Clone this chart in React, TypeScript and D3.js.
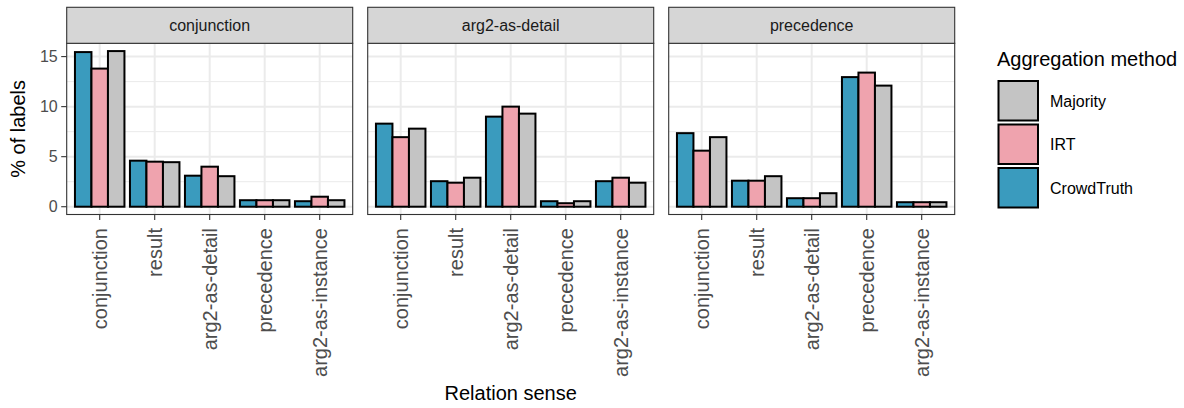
import React, { useEffect, useRef } from 'react';
import * as d3 from 'd3';

// facets, categories and methods
const facets = ['conjunction', 'arg2-as-detail', 'precedence'];
const senses = ['conjunction', 'result', 'arg2-as-detail', 'precedence', 'arg2-as-instance'];
const methods = ['CrowdTruth', 'IRT', 'Majority'];
const yTicks = [0, 5, 10, 15];
const yMinor = [2.5, 7.5, 12.5];

// % of labels, per facet, one value per sense
const crowdTruth = [
    [15.45, 4.6, 3.1, 0.65, 0.55],
    [8.3, 2.55, 9.0, 0.55, 2.55],
    [7.35, 2.6, 0.85, 12.95, 0.45],
];
const irt = [
    [13.8, 4.5, 4.0, 0.65, 1.0],
    [6.95, 2.4, 10.0, 0.35, 2.9],
    [5.6, 2.6, 0.85, 13.4, 0.45],
];
const majority = [
    [15.55, 4.45, 3.05, 0.65, 0.65],
    [7.8, 2.9, 9.3, 0.55, 2.4],
    [6.95, 3.05, 1.35, 12.1, 0.45],
];

const colors: Record<string, string> = {
    CrowdTruth: '#3a9bbe',
    IRT: '#efa3ae',
    Majority: '#c4c4c4',
};

const FONT = '"Liberation Sans", Arial, Helvetica, sans-serif';

export default function App() {
    const ref = useRef<SVGSVGElement | null>(null);

    useEffect(() => {
        const svg = d3.select(ref.current);
        svg.selectAll('*').remove();

        const width = 1184;
        const height = 408;
        const panelW = 286;
        const gap = 15;
        const left0 = 66.7;
        const stripTop = 7.3;
        const panelTop = 43.3;
        const panelBottom = 214.5;

        const series: Record<string, number[][]> = {
            CrowdTruth: crowdTruth,
            IRT: irt,
            Majority: majority,
        };

        const maxVal = d3.max([...crowdTruth, ...irt, ...majority].flat()) as number;
        const yScale = d3.scaleLinear()
            .domain([-0.05 * maxVal, 1.05 * maxVal])
            .range([panelBottom, panelTop]);

        svg.attr('width', width).attr('height', height);
        svg.append('rect').attr('width', width).attr('height', height).attr('fill', '#ffffff');

        facets.forEach((facet, fi) => {
            const x0 = left0 + fi * (panelW + gap);
            const g = svg.append('g');

            const xScale = d3.scaleBand<string>()
                .domain(senses)
                .range([x0, x0 + panelW])
                .paddingInner(0)
                .paddingOuter(0.1);
            const step = xScale.step();

            // panel background
            g.append('rect')
                .attr('x', x0).attr('y', panelTop)
                .attr('width', panelW).attr('height', panelBottom - panelTop)
                .attr('fill', '#ffffff');

            // grid
            g.selectAll('.minor')
                .data(yMinor)
                .enter()
                .append('line')
                .attr('x1', x0).attr('x2', x0 + panelW)
                .attr('y1', d => yScale(d)).attr('y2', d => yScale(d))
                .attr('stroke', '#ebebeb').attr('stroke-width', 1);
            g.selectAll('.major')
                .data(yTicks)
                .enter()
                .append('line')
                .attr('x1', x0).attr('x2', x0 + panelW)
                .attr('y1', d => yScale(d)).attr('y2', d => yScale(d))
                .attr('stroke', '#ebebeb').attr('stroke-width', 2);
            g.selectAll('.vmajor')
                .data(senses)
                .enter()
                .append('line')
                .attr('x1', d => (xScale(d) as number) + step / 2)
                .attr('x2', d => (xScale(d) as number) + step / 2)
                .attr('y1', panelTop).attr('y2', panelBottom)
                .attr('stroke', '#ebebeb').attr('stroke-width', 2);

            // bars
            senses.forEach((sense, si) => {
                const c = (xScale(sense) as number) + step / 2;
                const inner = d3.scaleBand<string>()
                    .domain(methods)
                    .range([c - 0.45 * step, c + 0.45 * step]);
                methods.forEach(m => {
                    const v = series[m][fi][si];
                    g.append('rect')
                        .attr('x', inner(m) as number)
                        .attr('y', yScale(v))
                        .attr('width', inner.bandwidth())
                        .attr('height', yScale(0) - yScale(v))
                        .attr('fill', colors[m])
                        .attr('stroke', '#000000')
                        .attr('stroke-width', 2);
                });
            });

            // panel border
            g.append('rect')
                .attr('x', x0).attr('y', panelTop)
                .attr('width', panelW).attr('height', panelBottom - panelTop)
                .attr('fill', 'none')
                .attr('stroke', '#333333').attr('stroke-width', 1.1);

            // strip
            g.append('rect')
                .attr('x', x0).attr('y', stripTop)
                .attr('width', panelW).attr('height', panelTop - stripTop)
                .attr('fill', '#d6d6d6')
                .attr('stroke', '#333333').attr('stroke-width', 1.1);
            g.append('text')
                .attr('x', x0 + panelW / 2)
                .attr('y', (stripTop + panelTop) / 2)
                .attr('text-anchor', 'middle')
                .attr('dominant-baseline', 'central')
                .attr('font-family', FONT)
                .attr('font-size', 16)
                .attr('fill', '#1a1a1a')
                .text(facet);

            // x axis
            const xAxis = g.append('g');
            senses.forEach(sense => {
                const c = (xScale(sense) as number) + step / 2;
                xAxis.append('line')
                    .attr('x1', c).attr('x2', c)
                    .attr('y1', panelBottom).attr('y2', panelBottom + 5.5)
                    .attr('stroke', '#333333').attr('stroke-width', 1.1);
                xAxis.append('text')
                    .attr('transform', `translate(${c},${panelBottom + 13.5}) rotate(-90)`)
                    .attr('text-anchor', 'end')
                    .attr('dominant-baseline', 'central')
                    .attr('font-family', FONT)
                    .attr('font-size', 20)
                    .attr('fill', '#4d4d4d')
                    .text(sense);
            });

            // y axis only on first panel
            if (fi === 0) {
                const yAxis = g.append('g');
                yTicks.forEach(t => {
                    yAxis.append('line')
                        .attr('x1', x0 - 5.5).attr('x2', x0)
                        .attr('y1', yScale(t)).attr('y2', yScale(t))
                        .attr('stroke', '#333333').attr('stroke-width', 1.1);
                    yAxis.append('text')
                        .attr('x', x0 - 9)
                        .attr('y', yScale(t))
                        .attr('text-anchor', 'end')
                        .attr('dominant-baseline', 'central')
                        .attr('font-family', FONT)
                        .attr('font-size', 16)
                        .attr('fill', '#4d4d4d')
                        .text(String(t));
                });
            }
        });

        // axis titles
        svg.append('text')
            .attr('transform', `translate(18,${(panelTop + panelBottom) / 2}) rotate(-90)`)
            .attr('text-anchor', 'middle')
            .attr('dominant-baseline', 'central')
            .attr('font-family', FONT)
            .attr('font-size', 20)
            .attr('fill', '#000000')
            .text('% of labels');

        svg.append('text')
            .attr('x', left0 + (3 * panelW + 2 * gap) / 2)
            .attr('y', 400)
            .attr('text-anchor', 'middle')
            .attr('font-family', FONT)
            .attr('font-size', 20)
            .attr('fill', '#000000')
            .text('Relation sense');

        // legend
        const legend = svg.append('g');
        legend.append('text')
            .attr('x', 997)
            .attr('y', 66)
            .attr('font-family', FONT)
            .attr('font-size', 20)
            .attr('fill', '#000000')
            .text('Aggregation method');

        const legendOrder = methods.slice().reverse();
        legendOrder.forEach((m, i) => {
            const ky = 80 + i * 43.5;
            legend.append('rect')
                .attr('x', 998.5).attr('y', ky + 1)
                .attr('width', 39.5).attr('height', 39.5)
                .attr('fill', colors[m])
                .attr('stroke', '#000000').attr('stroke-width', 2);
            legend.append('text')
                .attr('x', 1050)
                .attr('y', ky + 21)
                .attr('dominant-baseline', 'central')
                .attr('font-family', FONT)
                .attr('font-size', 16)
                .attr('fill', '#000000')
                .text(m);
        });
    }, []);

    return (
        <svg ref={ref} style={{ position: 'absolute', left: 0, top: 0 }}></svg>
    );
}
